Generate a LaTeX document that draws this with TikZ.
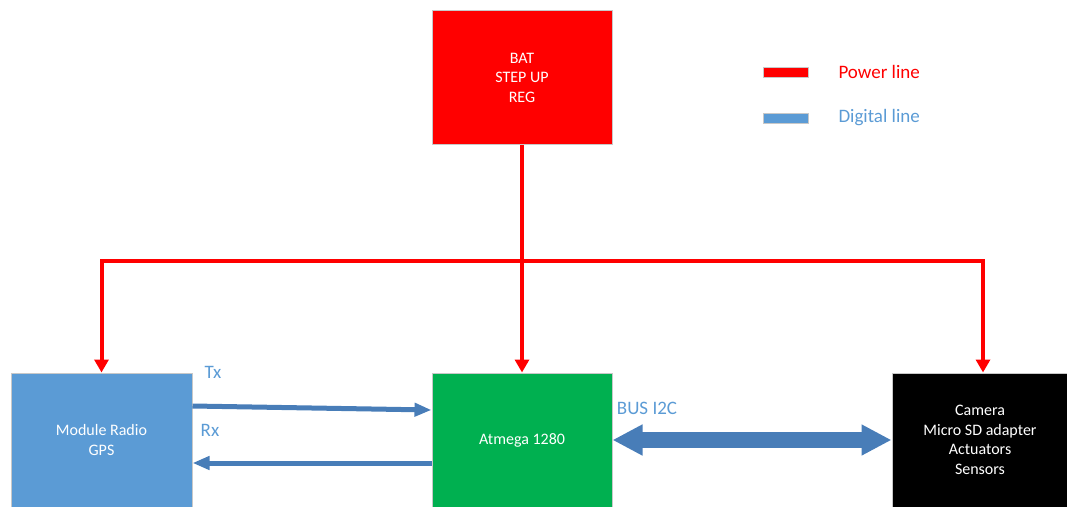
\documentclass[tikz,border=0pt]{standalone}
\usepackage{fontspec}
\setmainfont{Carlito}
\usetikzlibrary{arrows.meta,positioning}

\definecolor{pwrred}{RGB}{255,0,0}
\definecolor{boxblue}{RGB}{91,155,213}
\definecolor{boxgreen}{RGB}{0,176,80}
\definecolor{linkblue}{RGB}{72,125,184}
\definecolor{edgegray}{RGB}{200,200,200}

\begin{document}
\begin{tikzpicture}[x=1pt, y=-1pt, line join=miter,
  block/.style={draw=edgegray, line width=1pt, minimum width=180pt, minimum height=134pt,
    inner sep=0pt, align=center, text=white, font=\fontsize{16}{19.5}\selectfont},
  power/.style={draw=pwrred, line width=4pt},
  powertip/.style={-{Triangle[length=13pt,width=14pt]}},
  datalink/.style={draw=linkblue, line width=5pt, -{Triangle[length=17pt,width=13pt]}},
  buslink/.style={draw=linkblue, line width=16pt,
    {Triangle[length=30pt,width=29pt]}-{Triangle[length=30pt,width=29pt]}},
  lbl/.style={inner sep=0pt, text=boxblue, font=\fontsize{19}{22}\selectfont},
  keybar/.style={draw=edgegray, line width=0.6pt, minimum width=45pt, minimum height=10pt, inner sep=0pt}]

\useasboundingbox (0,0) rectangle (1067,506);

% ---------------------------
% Blocks
% ---------------------------
\node[block, fill=pwrred] (bat) at (522,77.5) {BAT\\STEP UP\\REG};
\node[block, fill=boxblue, minimum width=181pt] (radio) at (101.5,440) {Module Radio\\GPS};
\node[block, fill=boxgreen] (mcu) at (522,440) {Atmega 1280};
\node[block, fill=black, minimum width=176pt] (periph) at (980,440)
  {Camera\\Micro SD adapter\\Actuators\\Sensors};

% ---------------------------
% Power distribution
% ---------------------------
\coordinate (busL) at (101.5,261);
\coordinate (busR) at (983,261);

\draw[power, powertip] (bat.south) -- (mcu.north);
\draw[power, {Triangle[length=13pt,width=14pt]}-{Triangle[length=13pt,width=14pt]}]
  (radio.north) -- (busL) -- (busR) -- (busR |- periph.north);

% ---------------------------
% Digital links
% ---------------------------
\draw[datalink] ([yshift=34pt]radio.east) -- ([yshift=30pt]mcu.west);
\draw[datalink] ([yshift=-23pt]mcu.west) -- ([yshift=-23pt]radio.east);
\draw[buslink] (mcu.east) -- (periph.west);

\node[lbl, right=12pt of radio.north east] (txlbl) {Tx};
\node[lbl] (rxlbl) at (210,430) {Rx};
\node[lbl] (buslbl) at (647,408) {BUS I2C};

% ---------------------------
% Legend
% ---------------------------
\node[keybar, fill=pwrred] (pwrkey) at (785.5,72) {};
\node[keybar, fill=boxblue] (digkey) at (785.5,118) {};
\node[lbl, text=pwrred, right=30pt of pwrkey] (pwrtxt) {Power line};
\node[lbl, right=30pt of digkey] (digtxt) {Digital line};

\end{tikzpicture}
\end{document}
